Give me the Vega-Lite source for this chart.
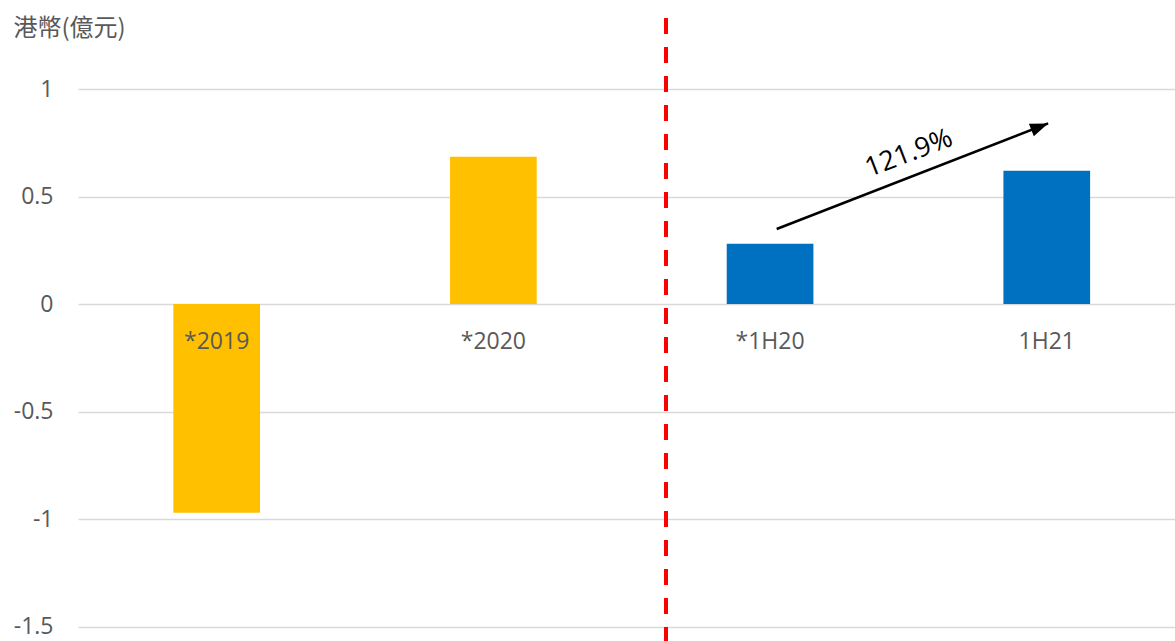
{
  "$schema": "https://vega.github.io/schema/vega-lite/v6.json",
  "width": 1097,
  "height": 641,
  "padding": {"left": 78, "top": 0, "right": 0, "bottom": 0},
  "autosize": {"type": "none"},
  "background": "white",
  "config": {"view": {"stroke": null}, "font": "Open Sans"},
  "datasets": {
    "bars": [
      {"period": "*2019", "value": -0.97, "group": "全年"},
      {"period": "*2020", "value": 0.685, "group": "全年"},
      {"period": "*1H20", "value": 0.28, "group": "半年"},
      {"period": "1H21", "value": 0.62, "group": "半年"}
    ],
    "divider": [{"pos": 1.624, "value": 1.33, "bottom": -1.567}],
    "arrow": [{"pos": 2.024, "value": 0.349}, {"pos": 3.005, "value": 0.84}],
    "arrowHead": [{"pos": 3.005, "value": 0.84}],
    "note": [{"pos": 2.502, "value": 0.7, "label": "121.9%"}]
  },
  "encoding": {
    "y": {
      "field": "value", "type": "quantitative",
      "scale": {"domain": [-1.567, 1.414], "nice": false},
      "axis": {
        "values": [-1.5, -1, -0.5, 0, 0.5, 1],
        "labelExpr": "'' + datum.value",
        "domain": false, "ticks": false, "tickSize": 0,
        "grid": true, "gridColor": "#D9D9D9", "gridWidth": 1.3,
        "labelPadding": 25, "labelFontSize": 23, "labelColor": "#595959",
        "labelFont": "Open Sans",
        "title": "港幣(億元)", "titleAngle": 0, "titleAlign": "left",
        "titleBaseline": "middle", "titleX": -65, "titleY": 28,
        "titleFont": "Noto Sans CJK TC", "titleFontSize": 24,
        "titleFontWeight": "normal", "titleColor": "#595959"
      }
    }
  },
  "resolve": {"scale": {"x": "independent"}},
  "layer": [
    {
      "data": {"name": "bars"},
      "mark": {"type": "bar"},
      "encoding": {
        "x": {
          "field": "period", "type": "nominal", "sort": null,
          "scale": {"paddingInner": 0.6867, "paddingOuter": 0.3257, "align": 0.529},
          "axis": {
            "orient": "bottom", "offset": -337, "title": null, "domain": false,
            "ticks": false, "tickSize": 0, "grid": false, "labelAngle": 0,
            "labelPadding": 26, "labelFontSize": 23, "labelColor": "#595959",
            "labelFont": "Open Sans", "labelBaseline": "top", "zindex": 1
          }
        },
        "color": {
          "field": "group", "type": "nominal",
          "scale": {"domain": ["全年", "半年"], "range": ["#FFC000", "#0070C0"]},
          "legend": null
        }
      }
    },
    {
      "data": {"name": "divider"},
      "mark": {"type": "rule", "color": "#FF0000", "strokeWidth": 4, "strokeDash": [16, 13]},
      "encoding": {
        "x": {"field": "pos", "type": "quantitative", "scale": {"domain": [-0.501, 3.4635], "nice": false, "zero": false}, "axis": null},
        "y2": {"field": "bottom"}
      }
    },
    {
      "data": {"name": "arrow"},
      "mark": {"type": "line", "color": "black", "strokeWidth": 2.5},
      "encoding": {
        "x": {"field": "pos", "type": "quantitative", "scale": {"domain": [-0.501, 3.4635], "nice": false, "zero": false}, "axis": null}
      }
    },
    {
      "data": {"name": "arrowHead"},
      "mark": {"type": "point", "shape": "M0,0L-2,-0.75L-2,0.75Z", "filled": true, "color": "black", "opacity": 1, "size": 324, "angle": -21.3},
      "encoding": {
        "x": {"field": "pos", "type": "quantitative", "scale": {"domain": [-0.501, 3.4635], "nice": false, "zero": false}, "axis": null}
      }
    },
    {
      "data": {"name": "note"},
      "mark": {"type": "text", "fontSize": 27, "angle": -21, "align": "center", "baseline": "middle", "color": "black", "font": "Open Sans"},
      "encoding": {
        "x": {"field": "pos", "type": "quantitative", "scale": {"domain": [-0.501, 3.4635], "nice": false, "zero": false}, "axis": null},
        "text": {"field": "label"}
      }
    }
  ]
}
